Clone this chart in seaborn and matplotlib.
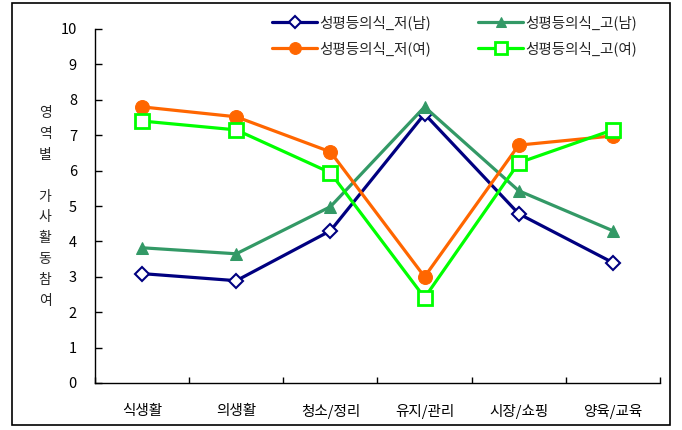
import matplotlib
matplotlib.use("Agg")
import matplotlib.pyplot as plt
import matplotlib.patches as mpatches
from matplotlib.ticker import FixedLocator, NullFormatter
import seaborn as sns
import pandas as pd

categories = ["식생활", "의생활", "청소/정리", "유지/관리", "시장/쇼핑", "양육/교육"]
series_names = ["성평등의식_저(남)", "성평등의식_저(여)", "성평등의식_고(남)", "성평등의식_고(여)"]
low_male = [3.09, 2.89, 4.30, 7.60, 4.78, 3.40]
low_female = [7.80, 7.52, 6.53, 3.00, 6.72, 6.98]
high_male = [3.82, 3.65, 4.98, 7.80, 5.43, 4.30]
high_female = [7.40, 7.15, 5.94, 2.41, 6.22, 7.15]
y_ticks = list(range(0, 11))

sns.set_theme(style="white")
plt.rcParams['font.family'] = ['Noto Sans CJK KR', 'DejaVu Sans']

fig = plt.figure(figsize=(6.82, 4.30), dpi=100)
ax = fig.add_axes([95/682, 1-383/430, (660-95)/682, (383-29)/430])

styles = {
    "성평등의식_저(남)": dict(color="#000080", marker="D", markersize=7, markerfacecolor="white",
                         markeredgecolor="#000080", markeredgewidth=1.5),
    "성평등의식_저(여)": dict(color="#FF6600", marker="o", markersize=10, markerfacecolor="#FF6600",
                         markeredgecolor="#FF6600"),
    "성평등의식_고(남)": dict(color="#339966", marker="^", markersize=9, markerfacecolor="#339966",
                         markeredgecolor="#339966"),
    "성평등의식_고(여)": dict(color="#00FF00", marker="s", markersize=10, markerfacecolor="white",
                         markeredgecolor="#00FF00", markeredgewidth=2),
}
values = {
    "성평등의식_저(남)": low_male,
    "성평등의식_저(여)": low_female,
    "성평등의식_고(남)": high_male,
    "성평등의식_고(여)": high_female,
}
draw_order = ["성평등의식_저(남)", "성평등의식_고(남)", "성평등의식_저(여)", "성평등의식_고(여)"]
for name in draw_order:
    df = pd.DataFrame({"x": categories, "y": values[name]})
    st = styles[name]
    sns.lineplot(data=df, x="x", y="y", ax=ax, sort=False, linewidth=2.3,
                 label=name, **st)

ax.set_xlim(-0.5, len(categories) - 0.5)
ax.set_ylim(0, 10)
ax.set_yticks(y_ticks)
ax.set_xticks(range(len(categories)))
ax.set_xticklabels(categories)
ax.xaxis.set_minor_locator(FixedLocator([i - 0.5 for i in range(len(categories) + 1)]))
ax.xaxis.set_minor_formatter(NullFormatter())
ax.tick_params(axis="x", which="major", length=0, pad=15, labelsize=10.5, colors="black")
ax.tick_params(axis="x", which="minor", length=4, direction="in", width=1, color="black", bottom=True)
ax.tick_params(axis="y", which="major", length=5, direction="in", width=1, pad=13,
               labelsize=10.5, colors="black", left=True)
ax.set_xlabel("")
ax.set_ylabel("")
for s in ["top", "right"]:
    ax.spines[s].set_visible(False)
for s in ["left", "bottom"]:
    ax.spines[s].set_color("black")
    ax.spines[s].set_linewidth(1)
ax.grid(False)

handles, labels = ax.get_legend_handles_labels()
order = [labels.index(n) for n in series_names]
ax.legend([handles[i] for i in order], [labels[i] for i in order], ncol=2, frameon=False,
          loc="upper left", bbox_to_anchor=(259/682, 1-2/430), bbox_transform=fig.transFigure,
          fontsize=10.5, handlelength=3.1, columnspacing=3.2, labelspacing=0.8,
          handletextpad=0.15, markerscale=0.85)

fig.text(45/682, 1-207/430, "영\n역\n별\n\n가\n사\n활\n동\n참\n여", ha="center", va="center",
         fontsize=10, linespacing=1.62)

fig.patches.append(mpatches.Rectangle((12/682, 1-425/430), (670-12)/682, (425-3)/430,
                                      transform=fig.transFigure, fill=False, edgecolor="black",
                                      linewidth=1.2))

fig.savefig("out.png", dpi=100)
